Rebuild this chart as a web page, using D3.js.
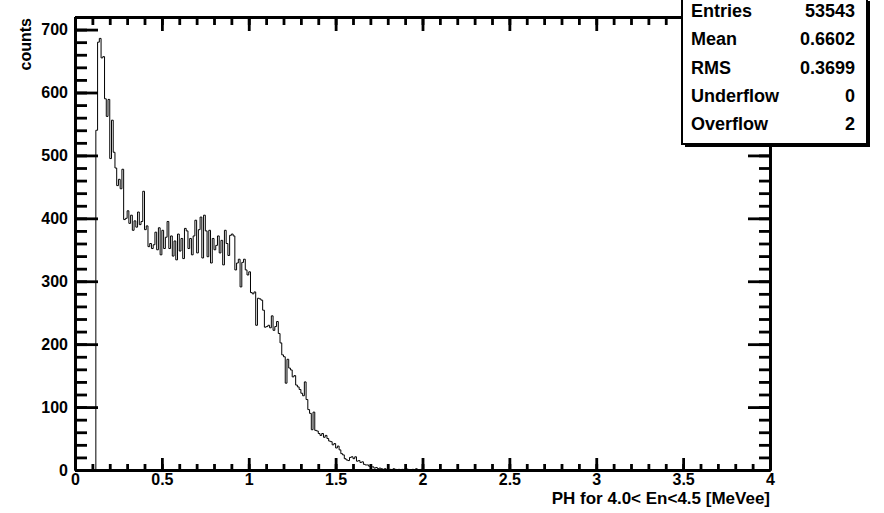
<!DOCTYPE html>
<html>
<head>
<meta charset="utf-8">
<script src="https://cdn.jsdelivr.net/npm/d3@7"></script>
<style>
  body { margin: 0; background: #fff; }
  text { font-family: "Liberation Sans", Arial, sans-serif; font-weight: bold; }
</style>
</head>
<body>
<svg width="884" height="513"></svg>
<script>
// histogram bins: 0.01 wide, first filled bin at 0.12
var binStart = 0.12;
var binWidth = 0.01;
var counts = [
  540, 680, 686, 655, 657, 590, 562, 589, 495, 556,
  505, 480, 452, 462, 447, 478, 398, 400, 412, 392,
  405, 381, 396, 386, 410, 390, 395, 443, 382, 388,
  355, 360, 352, 358, 378, 350, 385, 342, 381, 352,
  370, 395, 352, 372, 340, 364, 334, 375, 348, 368,
  336, 384, 380, 352, 368, 342, 372, 397, 345, 382,
  402, 337, 405, 380, 339, 381, 329, 368, 350, 357,
  372, 345, 365, 326, 381, 360, 341, 373, 375, 372,
  318, 329, 335, 291, 330, 335, 318, 310, 315, 282,
  280, 283, 230, 273, 272, 270, 254, 227, 228, 230,
  226, 245, 222, 228, 236, 217, 202, 183, 180, 138,
  176, 162, 159, 148, 150, 135, 132, 128, 122, 118,
  140, 112, 96, 90, 64, 92, 63, 62, 58, 55,
  58, 52, 55, 50, 46, 45, 40, 42, 35, 38,
  32, 26, 24, 18, 16, 15, 20, 21, 18, 21,
  14, 15, 12, 13, 9, 8, 8, 6, 5, 5,
  3, 4, 2, 3, 2, 1, 2, 1, 0, 1,
  0, 2, 1, 0, 1, 0, 1, 0, 3, 1,
  0, 0, 1, 0, 2, 0, 0, 1, 0, 0
];

var xTicks = [0, 0.5, 1, 1.5, 2, 2.5, 3, 3.5, 4];
var xMinor = d3.range(0, 41).map(function(i) { return i / 10; });
var yTicks = [0, 100, 200, 300, 400, 500, 600, 700];
var yMinor = d3.range(0, 37).map(function(i) { return i * 20; });

var statLabels = ["Entries", "Mean", "RMS", "Underflow", "Overflow"];
var statValues = ["53543", "0.6602", "0.3699", "0", "2"];

var xTitle = "PH for 4.0< En<4.5 [MeVee]";
var yTitle = "counts";

var svg = d3.select("svg"),
    width = +svg.attr("width"),
    height = +svg.attr("height");

var frame = {left: 75, right: 770, top: 17, bottom: 470};

var x = d3.scaleLinear().domain([0, 4]).range([frame.left, frame.right]);
var y = d3.scaleLinear().domain([0, 720]).range([frame.bottom, frame.top]);

// step outline like ROOT's default histogram drawing
var pts = [[0, 0], [binStart, 0]];
counts.forEach(function(c, i) {
  var x0 = binStart + i * binWidth;
  pts.push([x0, c]);
  pts.push([x0 + binWidth, c]);
});
pts.push([binStart + counts.length * binWidth, 0]);
pts.push([4, 0]);

var line = d3.line()
  .x(function(d) { return x(d[0]); })
  .y(function(d) { return y(d[1]); });

svg.append("path")
  .attr("d", line(pts))
  .attr("fill", "none")
  .attr("stroke", "#000")
  .attr("stroke-width", 1);

function styleAxis(g) {
  g.select(".domain").attr("stroke", "#000").attr("stroke-width", 2.8);
  g.selectAll(".tick line").attr("stroke", "#000").attr("stroke-width", 2.8);
  g.selectAll("text")
    .attr("fill", "#000")
    .style("font-family", '"Liberation Sans", Arial, sans-serif')
    .style("font-weight", "bold")
    .style("font-size", "16px");
}

var fmt = d3.format("~g");

// left axis
svg.append("g")
  .attr("transform", "translate(" + frame.left + ",0)")
  .call(d3.axisLeft(y).tickValues(yMinor).tickSize(-12).tickSizeOuter(0).tickFormat(""))
  .call(styleAxis);
svg.append("g")
  .attr("transform", "translate(" + frame.left + ",0)")
  .call(d3.axisLeft(y).tickValues(yTicks).tickSize(-23).tickSizeOuter(0).tickPadding(7).tickFormat(fmt))
  .call(styleAxis);

// right axis
svg.append("g")
  .attr("transform", "translate(" + frame.right + ",0)")
  .call(d3.axisRight(y).tickValues(yMinor).tickSize(-11).tickSizeOuter(0).tickFormat(""))
  .call(styleAxis);
svg.append("g")
  .attr("transform", "translate(" + frame.right + ",0)")
  .call(d3.axisRight(y).tickValues(yTicks).tickSize(-22).tickSizeOuter(0).tickFormat(""))
  .call(styleAxis);

// top axis
svg.append("g")
  .attr("transform", "translate(0," + frame.top + ")")
  .call(d3.axisTop(x).tickValues(xMinor).tickSize(-8).tickSizeOuter(0).tickFormat(""))
  .call(styleAxis);
svg.append("g")
  .attr("transform", "translate(0," + frame.top + ")")
  .call(d3.axisTop(x).tickValues(xTicks).tickSize(-14).tickSizeOuter(0).tickFormat(""))
  .call(styleAxis);

// bottom axis
svg.append("g")
  .attr("transform", "translate(0," + frame.bottom + ")")
  .call(d3.axisBottom(x).tickValues(xMinor).tickSize(-6).tickSizeOuter(0).tickFormat(""))
  .call(styleAxis);
svg.append("g")
  .attr("transform", "translate(0," + frame.bottom + ")")
  .call(d3.axisBottom(x).tickValues(xTicks).tickSize(-12).tickSizeOuter(0).tickPadding(4).tickFormat(fmt))
  .call(styleAxis);

// axis titles
svg.append("text")
  .attr("x", frame.right)
  .attr("y", 504)
  .attr("text-anchor", "end")
  .style("font-size", "17px")
  .text(xTitle);

svg.append("text")
  .attr("transform", "translate(31," + (frame.top + 1) + ") rotate(-90)")
  .attr("text-anchor", "end")
  .style("font-size", "16px")
  .text(yTitle);

// stats box
var box = {x: 682, y: -2, w: 185, h: 146, row: 28.3};
svg.append("rect")
  .attr("x", box.x + 3).attr("y", box.y + 3)
  .attr("width", box.w).attr("height", box.h)
  .attr("fill", "#000");
svg.append("rect")
  .attr("x", box.x).attr("y", box.y)
  .attr("width", box.w).attr("height", box.h)
  .attr("fill", "#fff")
  .attr("stroke", "#000")
  .attr("stroke-width", 2);

var rows = svg.append("g").selectAll("g")
  .data(statLabels)
  .enter().append("g")
  .attr("transform", function(d, i) { return "translate(0," + (17 + i * box.row) + ")"; });

rows.append("text")
  .attr("x", box.x + 9)
  .style("font-size", "18px")
  .text(function(d) { return d; });

rows.append("text")
  .attr("x", box.x + 173)
  .attr("text-anchor", "end")
  .style("font-size", "18px")
  .text(function(d, i) { return statValues[i]; });
</script>
</body>
</html>
